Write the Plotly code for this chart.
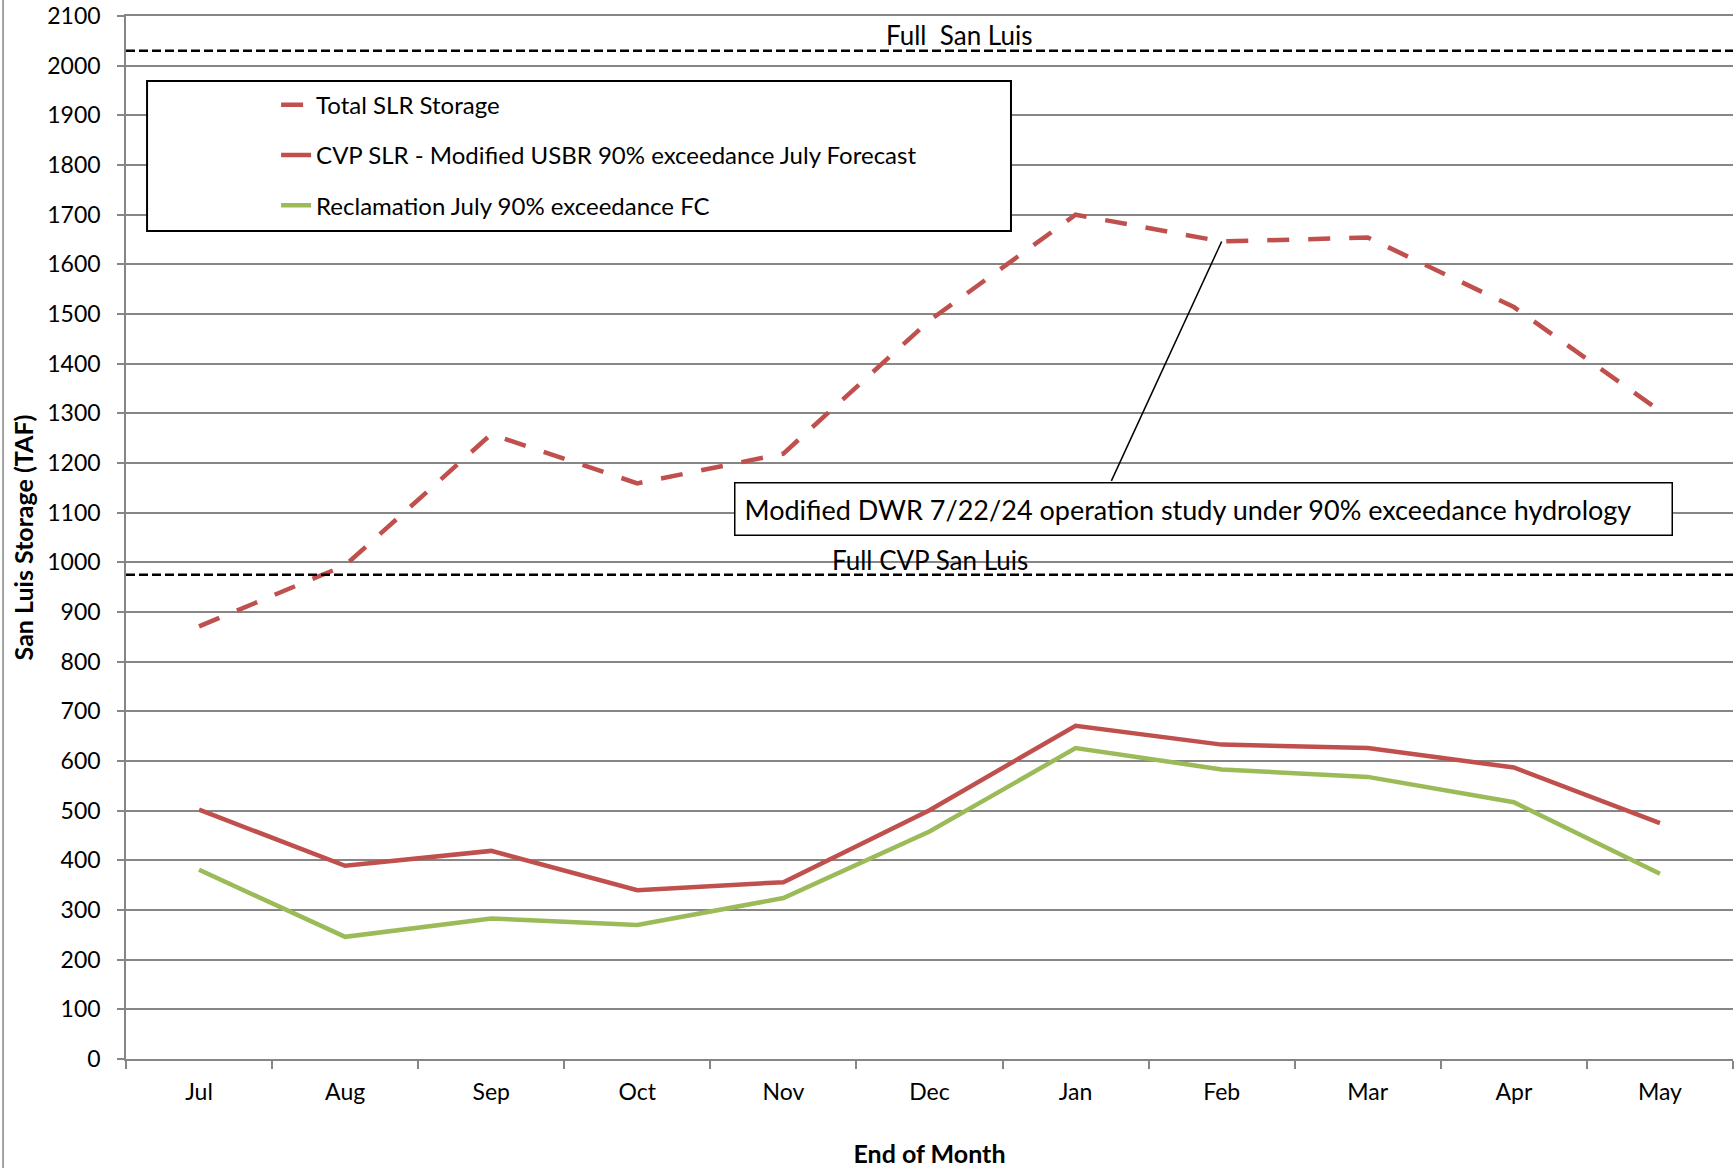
import plotly.graph_objects as go

months = ["Jul", "Aug", "Sep", "Oct", "Nov", "Dec", "Jan", "Feb", "Mar", "Apr", "May"]
total_slr = [871, 994, 1258, 1159, 1219, 1487, 1700, 1646, 1654, 1514, 1305]
cvp_slr = [502, 389, 419, 340, 356, 501, 671, 633, 626, 587, 475]
reclamation = [381, 246, 283, 270, 324, 458, 626, 583, 568, 517, 373]

full_san_luis = 2030
full_cvp_san_luis = 975

names = ["Total SLR Storage",
         "CVP SLR - Modified USBR 90% exceedance July Forecast",
         "Reclamation July 90% exceedance FC"]

RED = "#C0504D"
GREEN = "#9BBB59"
GRID = "#868686"
FONT = "Lato"

fig = go.Figure()
fig.add_trace(go.Scatter(x=months, y=total_slr, mode="lines", name=names[0],
                         legendgroup="a",
                         line=dict(color=RED, width=4.5, dash="22px,19px")))
fig.add_trace(go.Scatter(x=months, y=cvp_slr, mode="lines", name=names[1],
                         legendgroup="b",
                         line=dict(color=RED, width=4.5)))
fig.add_trace(go.Scatter(x=months, y=reclamation, mode="lines", name=names[2],
                         legendgroup="c",
                         line=dict(color=GREEN, width=4.5)))

shapes = [
    # legend frame
    dict(type="rect", xref="paper", yref="paper", x0=0.0131, x1=0.5507,
         y0=0.7939, y1=0.9377, line=dict(color="black", width=2),
         fillcolor="white", layer="above"),
    # reference lines
    dict(type="line", xref="paper", yref="y", x0=0, x1=1,
         y0=full_san_luis, y1=full_san_luis,
         line=dict(color="black", width=2.5, dash="9px,4px")),
    dict(type="line", xref="paper", yref="y", x0=0, x1=1,
         y0=full_cvp_san_luis, y1=full_cvp_san_luis,
         line=dict(color="black", width=2.5, dash="9px,4px")),
    # callout connector
    dict(type="line", xref="x", yref="y", x0=6.245, y0=1164,
         x1="Feb", y1=total_slr[months.index("Feb")],
         line=dict(color="black", width=1.5)),
    # outer chart border (left)
    dict(type="line", xref="paper", yref="paper", x0=-0.0765, x1=-0.0765,
         y0=-0.2, y1=1.1, line=dict(color=GRID, width=1.5)),
]

annotations = [
    dict(text="Full  San Luis", xref="paper", yref="y", x=0.5184, y=2062,
         showarrow=False, font=dict(family=FONT, size=26, color="black")),
    dict(text="Full CVP San Luis", xref="paper", yref="y", x=0.5003, y=1005,
         showarrow=False, font=dict(family=FONT, size=26, color="black")),
    dict(text="Modified DWR 7/22/24 operation study under 90% exceedance hydrology",
         xref="x", yref="y", x=6.874, y=1107, showarrow=False,
         font=dict(family=FONT, size=27, color="black"),
         bgcolor="white", bordercolor="black", borderwidth=1.5, borderpad=9,
         width=918, align="left"),
]

fig.update_layout(
    width=1735, height=1168,
    margin=dict(l=126, r=2, t=16, b=109, autoexpand=False),
    paper_bgcolor="white", plot_bgcolor="white",
    font=dict(family=FONT, size=23, color="black"),
    showlegend=True,
    legend=dict(x=0.0934, y=0.936, xanchor="left", yanchor="top",
                bgcolor="rgba(0,0,0,0)", borderwidth=0,
                font=dict(family=FONT, size=24, color="black"),
                tracegroupgap=16, traceorder="grouped"),
    shapes=shapes,
    annotations=annotations,
    xaxis=dict(type="category", categoryorder="array", categoryarray=months,
               range=[-0.5, 10.5], tickson="boundaries", ticks="outside",
               ticklen=8, tickcolor=GRID, tickwidth=1.5,
               showline=True, mirror=True, linecolor=GRID, linewidth=1.5,
               showgrid=False, automargin=False,
               tickfont=dict(family=FONT, size=23, color="black"),
               ticklabelstandoff=12,
               title=dict(text="<b>End of Month</b>", standoff=41,
                          font=dict(family=FONT, size=25, color="black"))),
    yaxis=dict(range=[0, 2100], dtick=100, tick0=0, showgrid=True,
               gridcolor=GRID, gridwidth=1.5, zeroline=False,
               ticks="outside", ticklen=7, tickcolor=GRID, tickwidth=1.5,
               showline=True, linecolor=GRID, linewidth=1.5,
               automargin=False, ticklabeloverflow="allow",
               tickfont=dict(family=FONT, size=23, color="black"),
               ticklabelstandoff=12,
               title=dict(text="<b>San Luis Storage (TAF)</b>", standoff=7,
                          font=dict(family=FONT, size=25, color="black"))),
)

# remove the browser's default 8px page margin so the figure fills the window exactly
fig.write_html("out.html", config={"displayModeBar": False},
               post_script="document.body.style.margin='0';")
